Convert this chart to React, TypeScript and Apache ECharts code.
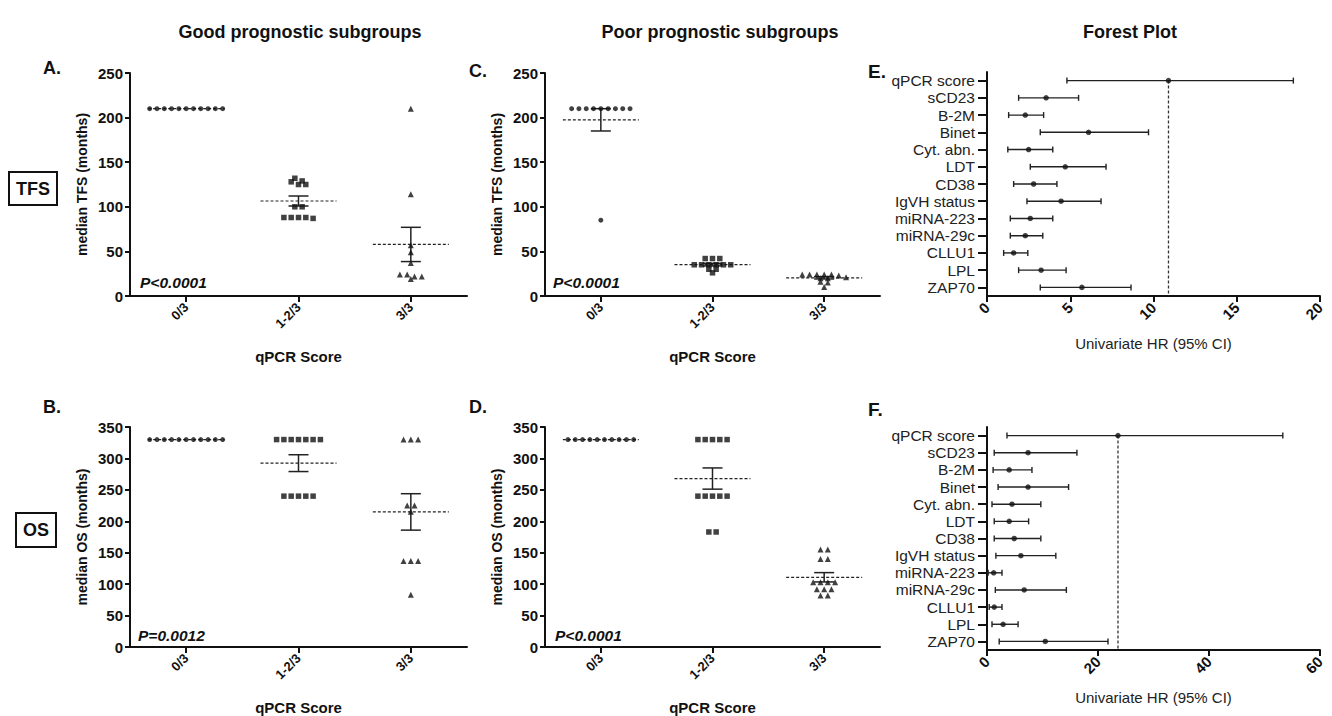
import React, { useEffect, useRef } from 'react';
import * as echarts from 'echarts';

// ---------- DATA ----------
const scoreCats = ['0/3', '1-2/3', '3/3'];

// A. TFS, good prognostic subgroups
const tfsGood0 = [210, 210, 210, 210, 210, 210, 210, 210, 210, 210, 210];
const tfsGood12 = [132, 128, 125, 125, 129, 100, 100, 88, 88, 87, 88, 88];
const tfsGood3 = [210, 114, 57, 49, 37, 24, 22, 19, 22, 24];

// B. OS, good prognostic subgroups
const osGood0 = [330, 330, 330, 330, 330, 330, 330, 330, 330, 330, 330];
const osGood12 = [330, 330, 330, 330, 330, 330, 330, 240, 240, 240, 240, 240];
const osGood3 = [330, 330, 330, 225, 225, 215, 137, 137, 137, 83];

// C. TFS, poor prognostic subgroups
const tfsPoor0 = [210, 210, 210, 210, 210, 210, 210, 210, 210, 85];
const tfsPoor12 = [42, 35, 35, 35, 35, 35, 35, 30, 30, 26, 42, 42];
const tfsPoor3 = [24, 24, 24, 21, 20, 16, 15, 10, 20, 23, 24, 24];

// D. OS, poor prognostic subgroups
const osPoor0 = [330, 330, 330, 330, 330, 330, 330, 330, 330, 330];
const osPoor12 = [330, 330, 330, 330, 330, 240, 240, 240, 240, 240, 183, 183];
const osPoor3 = [155, 155, 140, 140, 103, 103, 103, 103, 92, 92, 92, 82, 82];

// Forest plots
const factors = ['qPCR score', 'sCD23', 'B-2M', 'Binet', 'Cyt. abn.', 'LDT', 'CD38', 'IgVH status', 'miRNA-223', 'miRNA-29c', 'CLLU1', 'LPL', 'ZAP70'];
const tfsHR = [10.9, 3.55, 2.3, 6.1, 2.5, 4.7, 2.8, 4.45, 2.6, 2.3, 1.6, 3.25, 5.7];
const tfsLow = [4.8, 1.9, 1.3, 3.2, 1.25, 2.6, 1.6, 2.4, 1.4, 1.4, 1.0, 1.9, 3.2];
const tfsHigh = [18.4, 5.5, 3.4, 9.7, 3.95, 7.15, 4.2, 6.85, 3.95, 3.35, 2.45, 4.75, 8.65];
const osHR = [23.6, 7.4, 4.0, 7.4, 4.5, 4.0, 4.9, 6.1, 1.2, 6.7, 1.3, 2.9, 10.5];
const osLow = [3.6, 1.3, 1.1, 2.0, 0.9, 1.3, 1.3, 1.6, 0.2, 1.5, 0.4, 0.9, 2.2];
const osHigh = [53.3, 16.2, 8.1, 14.7, 9.7, 7.5, 9.7, 12.4, 2.7, 14.3, 2.7, 5.6, 21.8];

const tfsTicks = { min: 0, max: 250, interval: 50 };
const osTicks = { min: 0, max: 350, interval: 50 };
const tfsHRTicks = { min: 0, max: 20, interval: 5 };
const osHRTicks = { min: 0, max: 60, interval: 20 };

// ---------- HELPERS ----------
const FONT = 'Arial, "Liberation Sans", Helvetica, sans-serif';
const INK = '#111';

function meanSem(v: number[]) {
  const n = v.length;
  const m = v.reduce((a, b) => a + b, 0) / n;
  const sd = Math.sqrt(v.reduce((a, b) => a + (b - m) * (b - m), 0) / (n - 1));
  return [m, sd / Math.sqrt(n)];
}

// beeswarm-like row layout (centred rows of nearly equal values)
function swarm(values: number[], cat: number, pxPerUnit: number, catPx: number, spacing: number) {
  const sorted = values.slice().sort((a, b) => b - a);
  const rows: number[][] = [];
  sorted.forEach((v) => {
    const row = rows[rows.length - 1];
    if (row && (row[0] - v) * pxPerUnit < 3.5) row.push(v);
    else rows.push([v]);
  });
  const pts: number[][] = [];
  rows.forEach((row) => {
    const n = row.length;
    row.forEach((v, k) => {
      pts.push([cat + ((k - (n - 1) / 2) * spacing) / catPx, v]);
    });
  });
  return pts;
}

export default function App() {
  const ref = useRef<HTMLDivElement>(null);

  useEffect(() => {
    if (!ref.current) return;
    const chart = echarts.init(ref.current, undefined, { renderer: 'svg' });

    const grids: any[] = [];
    const xAxes: any[] = [];
    const yAxes: any[] = [];
    const series: any[] = [];

    const axisLine = { show: true, onZero: false, lineStyle: { color: INK, width: 2 } };
    const axisTick = { show: true, length: 6, lineStyle: { color: INK, width: 2 } };

    const scatterPanels = [
      { left: 130, top: 73, width: 337, height: 223, ticks: tfsTicks, yName: 'median TFS (months)', groups: [tfsGood0, tfsGood12, tfsGood3] },
      { left: 545, top: 73, width: 335, height: 223, ticks: tfsTicks, yName: 'median TFS (months)', groups: [tfsPoor0, tfsPoor12, tfsPoor3] },
      { left: 130, top: 427, width: 337, height: 222, ticks: osTicks, yName: 'median OS (months)', groups: [osGood0, osGood12, osGood3] },
      { left: 545, top: 427, width: 335, height: 222, ticks: osTicks, yName: 'median OS (months)', groups: [osPoor0, osPoor12, osPoor3] },
    ];
    const symbols = ['circle', 'rect', 'triangle'];
    const symSizes = [5, 5.5, 6];

    scatterPanels.forEach((p) => {
      const gi = grids.length;
      grids.push({ left: p.left, top: p.top, width: p.width, height: p.height });
      xAxes.push({
        type: 'category', gridIndex: gi, data: scoreCats, boundaryGap: true,
        axisLine, axisTick: { ...axisTick, alignWithLabel: true },
        axisLabel: { rotate: 45, fontWeight: 'bold', fontSize: 13, color: INK, margin: 9, fontFamily: FONT, interval: 0 },
        name: 'qPCR Score', nameLocation: 'middle', nameGap: 53,
        nameTextStyle: { fontWeight: 'bold', fontSize: 15, color: INK, fontFamily: FONT },
        splitLine: { show: false },
      });
      const xv = xAxes.length;
      xAxes.push({ type: 'value', gridIndex: gi, min: -0.5, max: 2.5, show: false, splitLine: { show: false } });
      const yi = yAxes.length;
      yAxes.push({
        type: 'value', gridIndex: gi, min: p.ticks.min, max: p.ticks.max, interval: p.ticks.interval,
        axisLine, axisTick: { ...axisTick, length: 5 }, splitLine: { show: false },
        axisLabel: { fontWeight: 'bold', fontSize: 15, color: INK, margin: 7, fontFamily: FONT },
        name: p.yName, nameLocation: 'middle', nameGap: 41,
        nameTextStyle: { fontWeight: 'bold', fontSize: 14, color: INK, fontFamily: FONT },
      });
      const stats = p.groups.map((g, ci) => {
        const [m, s] = meanSem(g);
        return [ci, m, m - s, m + s];
      });
      series.push({
        type: 'custom', xAxisIndex: xv, yAxisIndex: yi, z: 2,
        encode: { x: 0, y: [1, 2, 3] },
        data: stats,
        renderItem: (params: any, api: any) => {
          const i = api.value(0), m = api.value(1), lo = api.value(2), hi = api.value(3);
          const c = api.coord([i, m]);
          const cl = api.coord([i, lo]);
          const ch = api.coord([i, hi]);
          const st = { stroke: '#222', lineWidth: 1.5 };
          const children: any[] = [
            { type: 'line', shape: { x1: c[0] - 38, y1: c[1], x2: c[0] + 38, y2: c[1] }, style: { stroke: '#222', lineWidth: 1.2, lineDash: [3, 2] } },
          ];
          if (hi - lo > 0.01) {
            children.push(
              { type: 'line', shape: { x1: c[0], y1: cl[1], x2: c[0], y2: ch[1] }, style: st },
              { type: 'line', shape: { x1: c[0] - 10, y1: cl[1], x2: c[0] + 10, y2: cl[1] }, style: st },
              { type: 'line', shape: { x1: c[0] - 10, y1: ch[1], x2: c[0] + 10, y2: ch[1] }, style: st },
            );
          }
          return { type: 'group', children };
        },
      });
      const pxPerUnit = p.height / (p.ticks.max - p.ticks.min);
      const catPx = p.width / 3;
      p.groups.forEach((g, ci) => {
        series.push({
          type: 'scatter', xAxisIndex: xv, yAxisIndex: yi, z: 3,
          symbol: symbols[ci], symbolSize: symSizes[ci],
          itemStyle: { color: INK },
          data: swarm(g, ci, pxPerUnit, catPx, 7.3),
        });
      });
    });

    const forestPanels = [
      { left: 987, top: 72, width: 333, height: 224, ticks: tfsHRTicks, hr: tfsHR, lo: tfsLow, hi: tfsHigh },
      { left: 987, top: 427, width: 333, height: 223, ticks: osHRTicks, hr: osHR, lo: osLow, hi: osHigh },
    ];
    forestPanels.forEach((p) => {
      const gi = grids.length;
      grids.push({ left: p.left, top: p.top, width: p.width, height: p.height });
      const xi = xAxes.length;
      xAxes.push({
        type: 'value', gridIndex: gi, min: p.ticks.min, max: p.ticks.max, interval: p.ticks.interval,
        axisLine, axisTick, splitLine: { show: false },
        axisLabel: { rotate: 45, fontWeight: 'bold', fontSize: 15, color: INK, margin: 9, fontFamily: FONT, showMinLabel: true, showMaxLabel: true },
        name: 'Univariate HR (95% CI)', nameLocation: 'middle', nameGap: 40,
        nameTextStyle: { fontSize: 15, color: '#222', fontFamily: FONT },
      });
      const yi = yAxes.length;
      yAxes.push({
        type: 'category', gridIndex: gi, data: factors, inverse: true, boundaryGap: true,
        axisLine, axisTick: { ...axisTick, alignWithLabel: true, length: 9 },
        axisLabel: { fontSize: 15.5, color: '#222', margin: 12, fontFamily: FONT, interval: 0 },
        splitLine: { show: false },
      });
      series.push({
        type: 'custom', xAxisIndex: xi, yAxisIndex: yi, z: 2,
        encode: { x: [0, 1, 3], y: 2 },
        data: factors.map((_, i) => [p.lo[i], p.hi[i], i, p.hr[i]]),
        renderItem: (params: any, api: any) => {
          const lo = api.value(0), hi = api.value(1), idx = api.value(2), hr = api.value(3);
          const a = api.coord([lo, idx]);
          const b = api.coord([hi, idx]);
          const st = { stroke: '#222', lineWidth: 1.4 };
          const children: any[] = [
            { type: 'line', shape: { x1: a[0], y1: a[1], x2: b[0], y2: b[1] }, style: st },
            { type: 'line', shape: { x1: a[0], y1: a[1] - 3, x2: a[0], y2: a[1] + 3 }, style: st },
            { type: 'line', shape: { x1: b[0], y1: b[1] - 3, x2: b[0], y2: b[1] + 3 }, style: st },
          ];
          if (idx === 0) {
            const c = api.coord([hr, idx]);
            const cs = params.coordSys;
            children.push({ type: 'line', shape: { x1: c[0], y1: c[1], x2: c[0], y2: cs.y + cs.height }, style: { stroke: '#333', lineWidth: 1.3, lineDash: [3, 2] } });
          }
          return { type: 'group', children };
        },
      });
      series.push({
        type: 'scatter', xAxisIndex: xi, yAxisIndex: yi, z: 3,
        symbol: 'circle', symbolSize: 5.5, itemStyle: { color: INK },
        data: p.hr.map((v, i) => [v, i]),
      });
    });

    const txt = (text: string, x: number, y: number, extra: any = {}) => ({
      type: 'text', x, y, silent: true,
      style: { text, fontFamily: FONT, fill: INK, fontSize: 17, fontWeight: 'bold', align: 'left', verticalAlign: 'top', ...extra },
    });

    const graphic: any[] = [
      txt('Good prognostic subgroups', 300, 32, { align: 'center', verticalAlign: 'middle', fontSize: 18 }),
      txt('Poor prognostic subgroups', 720, 32, { align: 'center', verticalAlign: 'middle', fontSize: 18 }),
      txt('Forest Plot', 1130, 32, { align: 'center', verticalAlign: 'middle', fontSize: 18 }),
      txt('A.', 43, 59, { fontSize: 18 }),
      txt('C.', 469, 62, { fontSize: 18 }),
      txt('E.', 868, 62, { fontSize: 19 }),
      txt('B.', 43, 398, { fontSize: 18 }),
      txt('D.', 469, 398, { fontSize: 18 }),
      txt('F.', 868, 400, { fontSize: 19 }),
      { type: 'rect', shape: { x: 9, y: 172, width: 48, height: 33 }, style: { fill: 'none', stroke: INK, lineWidth: 2 } },
      txt('TFS', 33, 189, { align: 'center', verticalAlign: 'middle', fontSize: 18 }),
      { type: 'rect', shape: { x: 16, y: 513, width: 40, height: 34 }, style: { fill: 'none', stroke: INK, lineWidth: 2 } },
      txt('OS', 36, 530, { align: 'center', verticalAlign: 'middle', fontSize: 18 }),
      txt('P<0.0001', 140, 282, { fontSize: 15.5, fontStyle: 'italic', verticalAlign: 'middle' }),
      txt('P<0.0001', 553, 282, { fontSize: 15.5, fontStyle: 'italic', verticalAlign: 'middle' }),
      txt('P=0.0012', 138, 635, { fontSize: 15.5, fontStyle: 'italic', verticalAlign: 'middle' }),
      txt('P<0.0001', 555, 635, { fontSize: 15.5, fontStyle: 'italic', verticalAlign: 'middle' }),
    ];

    chart.setOption({
      animation: false,
      backgroundColor: '#ffffff',
      textStyle: { fontFamily: FONT },
      grid: grids,
      xAxis: xAxes,
      yAxis: yAxes,
      series,
      graphic,
    });

    return () => chart.dispose();
  }, []);

  return <div ref={ref} style={{ position: 'absolute', left: 0, top: 0, width: 1332, height: 716 }} />;
}
